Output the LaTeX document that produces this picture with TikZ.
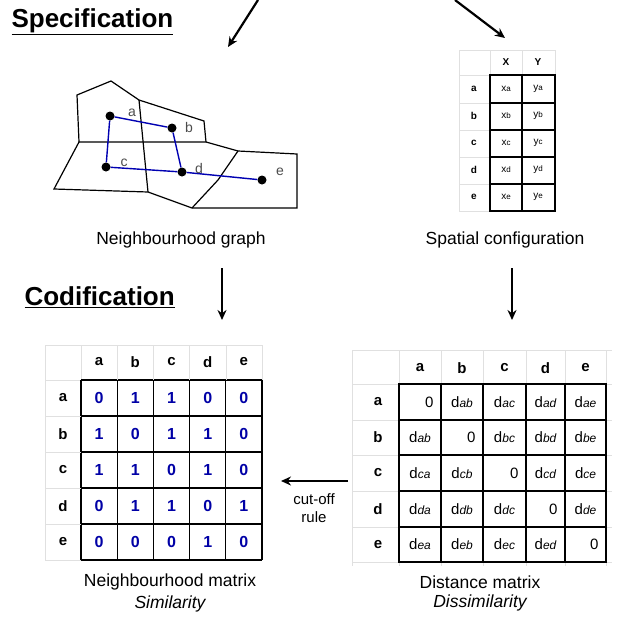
\documentclass[tikz,border=0pt]{standalone}
\usepackage{fontspec}
\setmainfont{Liberation Sans}
\usetikzlibrary{arrows.meta, positioning}

\begin{document}
\begin{tikzpicture}[x=1pt, y=-1pt,
    title/.style={font=\bfseries\fontsize{26}{30}\selectfont, anchor=west},
    caption/.style={font=\fontsize{17.5}{21}\selectfont},
    arrow/.style={-{Stealth[length=10pt, width=9pt]}, line width=2.2pt},
    region/.style={draw=black, line width=1.2pt},
    link/.style={draw=blue!70!black, line width=1.4pt},
    site/.style={circle, fill=black, inner sep=0pt, minimum size=9pt},
    faint/.style={draw=black!12, thin},
    box/.style={draw=black, line width=1.1pt},
    head/.style={font=\bfseries\fontsize{15}{18}\selectfont},
    bit/.style={font=\bfseries\fontsize{16}{19}\selectfont, text=blue!65!black},
    dist/.style={font=\fontsize{15}{18}\selectfont},
    small/.style={font=\fontsize{10}{12}\selectfont}
]
\useasboundingbox (0,0) rectangle (626,621);

% Titles
\node[title] (spec) at (8,22) {\underline{Specification}};
\node[title] (codif) at (21,297) {\underline{Codification}};

% Incoming arrows
\coordinate (inL) at (258,0);
\coordinate (inR) at (455,0);
\coordinate (outL) at (228,47);
\coordinate (outR) at (505,38);
\draw[arrow] (inL) -- (outL);
\draw[arrow] (inR) -- (outR);

% Regions of the neighbourhood graph
\draw[region] (79,142) -- (77,95) -- (111,81) -- (139,100) -- (204,121) -- (206,142);
\draw[region] (139,100) -- (148,192);
\draw[region] (79,142) -- (206,142) -- (238,151) -- (297,154) -- (297,208) -- (192,208) -- (148,192) -- (54,189) -- cycle;
\draw[region] (238,151) -- (218,180) -- (192,208);

% Sites and links
\node[site] (a) at (110,116) {};
\node[site] (b) at (172,128) {};
\node[site] (c) at (106,167) {};
\node[site] (d) at (182,172) {};
\node[site] (e) at (262,180) {};
\draw[link] (a) -- (b) -- (d) -- (c) -- (a);
\draw[link] (d) -- (e);
\foreach \s/\dx/\dy in {a/22/3, b/17/1, c/18/4, d/17/4, e/18/8}
    \node[font=\fontsize{14}{16}\selectfont, text=black!70] at ([xshift=\dx, yshift=\dy]\s) {\s};
\node[caption] (graphcap) at (181,240) {Neighbourhood graph};

% Spatial configuration table
\foreach \x in {459,490,522,555} \draw[faint] (\x,50) -- (\x,211);
\foreach \y in {50,75,103,130,157,184,211} \draw[faint] (459,\y) -- (555,\y);
\draw[box] (490,75) rectangle (555,211);
\draw[box] (522,75) -- (522,211);
\foreach \y in {103,130,157,184} \draw[box] (490,\y) -- (555,\y);
\node[small, font=\bfseries\fontsize{10}{12}\selectfont] at (506,62) {X};
\node[small, font=\bfseries\fontsize{10}{12}\selectfont] at (538,62) {Y};
\foreach \r [count=\i] in {a,b,c,d,e} {
    \node[small, font=\bfseries\fontsize{10}{12}\selectfont] at (474,62+27*\i) {\r};
    \node[small] at (506,62+27*\i) {x\footnotesize\r};
    \node[small] at (538,62+27*\i) {y\footnotesize\r};
}
\node[caption] (configcap) at (505,240) {Spatial configuration};

% Arrows down
\coordinate (dL1) at (222,268);
\coordinate (dL2) at (222,320);
\coordinate (dR1) at (512,268);
\coordinate (dR2) at (512,320);
\draw[arrow] (dL1) -- (dL2);
\draw[arrow] (dR1) -- (dR2);

% Neighbourhood matrix
\foreach \i in {0,...,5} {
    \draw[faint] (81+36.2*\i,345) -- (81+36.2*\i,380);
    \draw[faint] (45,380+36*\i) -- (81,380+36*\i);
    \draw[box] (81+36.2*\i,380) -- (81+36.2*\i,560);
    \draw[box] (81,380+36*\i) -- (262,380+36*\i);
}
\draw[faint] (45,345) -- (262,345);
\draw[faint] (45,345) -- (45,560);
\foreach \r [count=\i] in {a,b,c,d,e} {
    \node[head] at (63,362+36*\i) {\r};
    \node[head] at (81+36.2*\i-18.1,362) {\r};
}
\foreach \row [count=\i] in {{0,1,1,0,0},{1,0,1,1,0},{1,1,0,1,0},{0,1,1,0,1},{0,0,0,1,0}}
    \foreach \v [count=\j] in \row
        \node[bit] at (81+36.2*\j-18.1,362+36*\i) {\v};
\node[caption] (nmcap) at (170,582) {Neighbourhood matrix};
\node[caption, font=\itshape\fontsize{17.5}{21}\selectfont, below=-1pt of nmcap] (simcap) {Similarity};

% Distance matrix
\foreach \x in {352,399,441,483,526,565,606} \draw[faint] (\x,350) -- (\x,566);
\foreach \y in {350,384,420,455,491,527,562} \draw[faint] (352,\y) -- (612,\y);
\draw[box] (399,384) rectangle (606,562);
\foreach \x in {441,483,526,565} \draw[box] (\x,384) -- (\x,562);
\foreach \y in {420,455,491,527} \draw[box] (399,\y) -- (606,\y);
\foreach \r/\x in {a/420,b/462,c/504.5,d/545.5,e/585.5} \node[head] at (\x,368) {\r};
\foreach \r/\y in {a/402,b/437.5,c/473,d/509,e/544.5} \node[head] at (378,\y) {\r};
\foreach \r/\y [count=\i] in {a/402,b/437.5,c/473,d/509,e/544.5}
    \foreach \c/\x/\xr [count=\j] in {a/420/441,b/462/483,c/504.5/526,d/545.5/565,e/585.5/606} {
        \ifnum\i=\j
            \node[dist, anchor=east] at (\xr-4,\y) {0};
        \else
            \node[dist] at (\x,\y) {d{\fontsize{12}{14}\selectfont\itshape\ifnum\j=1 \ifnum\i=2 \c\r\else\r\c\fi\else\r\c\fi}};
        \fi
    }
\node[caption] (dmcap) at (480,582) {Distance matrix};
\node[caption, font=\itshape\fontsize{17.5}{21}\selectfont, below=-1pt of dmcap] (dissimcap) {Dissimilarity};

% Cut-off rule
\coordinate (cutR) at (348,481);
\coordinate (cutL) at (281,481);
\draw[arrow] (cutR) -- (cutL);
\node[caption, align=center, font=\fontsize{15}{18}\selectfont] (rule) at (314,508) {cut-off\\rule};
\end{tikzpicture}
\end{document}
